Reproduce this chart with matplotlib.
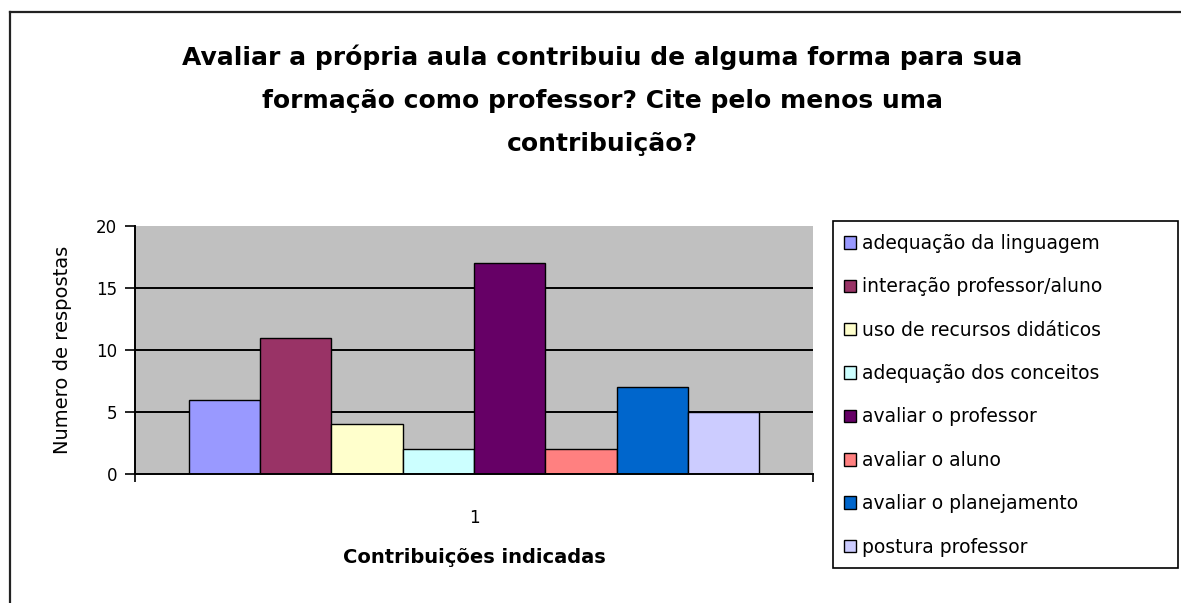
import matplotlib
matplotlib.use("Agg")
import matplotlib.pyplot as plt
from matplotlib.patches import Rectangle
from matplotlib.lines import Line2D

# ---- data ----
categories = ["1"]
series_labels = [
    "adequação da linguagem",
    "interação professor/aluno",
    "uso de recursos didáticos",
    "adequação dos conceitos",
    "avaliar o professor",
    "avaliar o aluno",
    "avaliar o planejamento",
    "postura professor",
]
series_values = [6, 11, 4, 2, 17, 2, 7, 5]
series_colors = ["#9999FF", "#993366", "#FFFFCC", "#CCFFFF",
                 "#660066", "#FF8080", "#0066CC", "#CCCCFF"]
yticks = [0, 5, 10, 15, 20]
title = ("Avaliar a própria aula contribuiu de alguma forma para sua\n"
         "formação como professor? Cite pelo menos uma\n"
         "contribuição?")
ylabel = "Numero de respostas"
xlabel = "Contribuições indicadas"

plt.rcParams['font.family'] = ['DejaVu Sans']

W, H = 1181, 603
fig = plt.figure(figsize=(W / 100, H / 100), dpi=100)

def fx(px):
    return px / W

def fy(py):
    return 1 - py / H

# outer border (top and left visible)
fig.add_artist(Line2D([fx(10), 1.0], [fy(12), fy(12)], color="#222222", lw=1.6))
fig.add_artist(Line2D([fx(10), fx(10)], [fy(12), 0.0], color="#222222", lw=1.6))

ax_left, ax_right, ax_top, ax_bottom = 135, 813, 226, 474
ax = fig.add_axes([fx(ax_left), fy(ax_bottom), fx(ax_right - ax_left), (ax_bottom - ax_top) / H])
ax.set_facecolor("#C0C0C0")

n = len(series_values)
gap = 1.5
width = 1.0 / (n + gap)
bars = []
for i, (lab, val, col) in enumerate(zip(series_labels, series_values, series_colors)):
    x = 1 - (n * width) / 2 + width * (i + 0.5)
    b = ax.bar(x, val, width=width, color=col, edgecolor="black", linewidth=1.0,
               label=lab, zorder=3)
    bars.append(b)

ax.set_xlim(0.5, 1.5)
ax.set_ylim(0, 20)
ax.set_yticks(yticks)
ax.set_yticklabels([str(t) for t in yticks], fontsize=12)
ax.set_xticks([1])
ax.set_xticklabels(categories, fontsize=12)
ax.tick_params(axis="x", length=0, pad=25)
ax.set_xticks([0.5, 1.5], minor=True)
ax.tick_params(axis="x", which="minor", length=6, width=1.2, color="black")
ax.tick_params(axis="y", length=7, width=1.2, color="black", pad=6)

for t in [5, 10, 15]:
    ax.axhline(t, color="black", lw=1.4, zorder=1)

for s in ["top", "right"]:
    ax.spines[s].set_visible(False)
for s in ["left", "bottom"]:
    ax.spines[s].set_linewidth(1.4)
    ax.spines[s].set_color("black")
    ax.spines[s].set_zorder(4)

ax.set_ylabel(ylabel, fontsize=14, labelpad=17)
ax.set_xlabel(xlabel, fontsize=14, fontweight="bold", labelpad=15)

fig.text(fx(602), fy(100), title, ha="center", va="center", fontsize=18,
         fontweight="bold", linespacing=1.99)

# legend box
fig.add_artist(Rectangle((fx(833), fy(568)), fx(1178 - 833), (568 - 221) / H,
                         transform=fig.transFigure, facecolor="white",
                         edgecolor="black", lw=1.2, zorder=0))
leg = fig.legend(handles=[b[0] for b in bars], labels=series_labels,
                 loc="upper left", bbox_to_anchor=(fx(844), fy(234)),
                 frameon=False, fontsize=13.5, labelspacing=1.3,
                 handlelength=0.65, handleheight=0.65, handletextpad=0.3,
                 borderpad=0, borderaxespad=0)

fig.savefig("out.png", dpi=100)
